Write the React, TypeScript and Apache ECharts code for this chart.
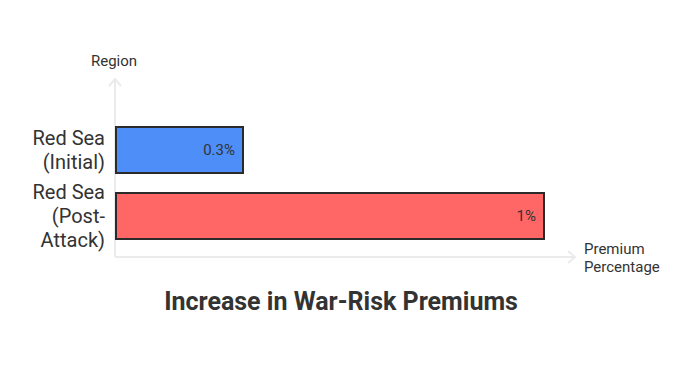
import React, { useEffect, useRef } from "react";
import * as echarts from "echarts";

const categories = ["Red Sea (Initial)", "Red Sea (Post-Attack)"];
const premiums = [0.3, 1];
const barColors = ["#4E8EF8", "#FF6666"];
const titleText = "Increase in War-Risk Premiums";
const yAxisName = "Region";
const xAxisName = "Premium\nPercentage";

const FONT = "Roboto, 'Noto Sans', sans-serif";

export default function App() {
  const ref = useRef<HTMLDivElement>(null);
  useEffect(() => {
    if (!ref.current) return;
    const chart = echarts.init(ref.current, undefined, { renderer: "svg" });
    const axisColor = "#ebebeb";
    chart.setOption({
      animation: false,
      backgroundColor: "#ffffff",
      textStyle: { fontFamily: FONT },
      grid: { left: 115, right: 145, top: 117, bottom: 117, containLabel: false },
      xAxis: {
        type: "value",
        min: 0,
        max: 1,
        show: false,
      },
      yAxis: {
        type: "category",
        data: categories,
        inverse: true,
        axisLine: { show: false },
        axisTick: { show: false },
        splitLine: { show: false },
        axisLabel: {
          margin: 10,
          fontSize: 20,
          lineHeight: 24,
          color: "#333333",
          fontFamily: FONT,
          formatter: (v: string) => v.replace(" (", "\n(").replace("Post-", "Post-\n"),
        },
      },
      series: [
        {
          type: "bar",
          barWidth: 48,
          data: premiums.map((v, i) => ({
            value: v,
            itemStyle: { color: barColors[i], borderColor: "#2b2b2b", borderWidth: 2 },
          })),
          label: {
            show: true,
            position: "insideRight",
            distance: 9,
            fontSize: 15,
            color: "#333333",
            fontFamily: FONT,
            formatter: (p: any) => `${p.value}%`,
          },
          z: 3,
        },
      ],
      graphic: [
        {
          type: "line",
          z: 0,
          shape: { x1: 115, y1: 257, x2: 115, y2: 79 },
          style: { stroke: axisColor, lineWidth: 2 },
        },
        {
          type: "polyline",
          z: 0,
          shape: { points: [[109, 86], [115, 79], [121, 86]] },
          style: { stroke: axisColor, lineWidth: 2, fill: "none" },
        },
        {
          type: "line",
          z: 0,
          shape: { x1: 115, y1: 257, x2: 575, y2: 257 },
          style: { stroke: axisColor, lineWidth: 2 },
        },
        {
          type: "polyline",
          z: 0,
          shape: { points: [[568, 251], [575, 257], [568, 263]] },
          style: { stroke: axisColor, lineWidth: 2, fill: "none" },
        },
        {
          type: "text",
          x: 114,
          y: 61,
          style: {
            text: yAxisName,
            fontSize: 15,
            fill: "#333333",
            fontFamily: FONT,
            align: "center",
            verticalAlign: "middle",
          },
        },
        {
          type: "text",
          x: 584,
          y: 258,
          style: {
            text: xAxisName,
            fontSize: 15,
            lineHeight: 18,
            fill: "#333333",
            fontFamily: FONT,
            align: "left",
            verticalAlign: "middle",
          },
        },
        {
          type: "text",
          x: 341,
          y: 301,
          style: {
            text: titleText,
            fontSize: 25,
            fontWeight: "bold",
            fill: "#333333",
            fontFamily: FONT,
            align: "center",
            verticalAlign: "middle",
          },
        },
      ],
    });
    return () => chart.dispose();
  }, []);
  return <div ref={ref} style={{ width: 690, height: 366, margin: -8 }} />;
}
